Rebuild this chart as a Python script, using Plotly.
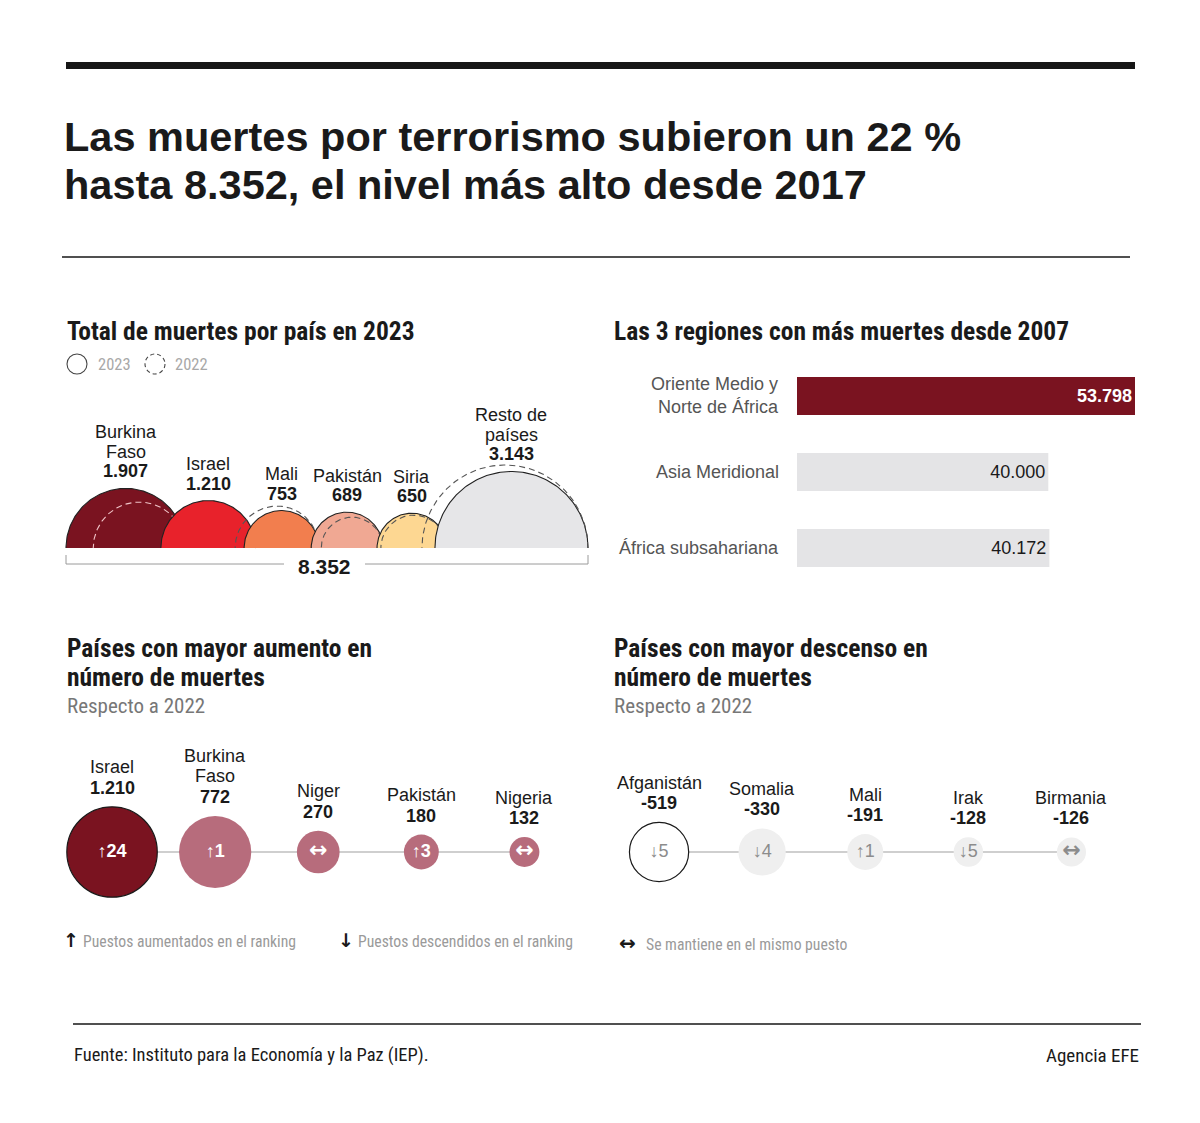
import numpy as np
import plotly.graph_objects as go

W, H = 1200, 1123

# ---------------- DATA ----------------
semi_countries = ["Burkina\nFaso", "Israel", "Mali", "Pakistán", "Siria", "Resto de\npaíses"]
deaths_2023 = [1907, 1210, 753, 689, 650, 3143]
deaths_2022 = [1135, 18, 944, 509, 580, 3700]
semi_colors = ["#7a1320", "#e8222b", "#f27e4e", "#f0a893", "#fdd792", "#e6e6e8"]

regions = ["Oriente Medio y\nNorte de África", "Asia Meridional", "África subsahariana"]
region_deaths = [53798, 40000, 40172]

up_countries = ["Israel", "Burkina\nFaso", "Niger", "Pakistán", "Nigeria"]
up_change = [1210, 772, 270, 180, 132]
up_rank = ["↑24", "↑1", "↔", "↑3", "↔"]

down_countries = ["Afganistán", "Somalia", "Mali", "Irak", "Birmania"]
down_change = [-519, -330, -191, -128, -126]
down_rank = ["↓5", "↓4", "↑1", "↓5", "↔"]

# ---------------- STYLE ----------------
BODY = "Liberation Sans, Arial, Helvetica, sans-serif"
NARROW = "Roboto Condensed, Liberation Sans Narrow, Arial Narrow, Roboto, sans-serif"
ARROWS = "DejaVu Sans, sans-serif"
DARK = "#1a1a1a"


def fmt(v):
    return f"{v:,}".replace(",", ".")


def PX(x):
    return x / W


def PY(y):
    return 1 - y / H


def rank_text(s, size):
    return s.replace("↔", f"<span style='font-family:DejaVu Sans;font-size:{size}px;font-weight:bold'>↔</span>")


fig = go.Figure()
annotations = []
shapes = []


def ann(x, y, text, size, color=DARK, family=BODY, weight=400, xanchor="center",
        yanchor="middle", xref="x", yref="y", **kw):
    annotations.append(dict(x=x, y=y, xref=xref, yref=yref, text=text, showarrow=False,
                            xanchor=xanchor, yanchor=yanchor,
                            font=dict(family=family, size=size, color=color, weight=weight),
                            **kw))


# ---------------- SEMICIRCLES (pixel axis x/y) ----------------
K_SEMI = 1.365            # px per sqrt(death)
SX0, SX1, BASE = 66, 588, 548
OVERLAP_W = [25, 12, 8, 6, 12]   # relative overlap between neighbouring semicircles
radii = [K_SEMI * np.sqrt(v) for v in deaths_2023]
radii22 = [K_SEMI * np.sqrt(v) for v in deaths_2022]
tot_overlap = 2 * sum(radii) - (SX1 - SX0)
overlaps = [tot_overlap * w / sum(OVERLAP_W) for w in OVERLAP_W]
centers = [SX0 + radii[0]]
for i in range(1, len(radii)):
    centers.append(centers[-1] + radii[i - 1] + radii[i] - overlaps[i - 1])

th = np.linspace(0, np.pi, 120)
for i in range(len(radii)):
    c, r, r2 = centers[i], radii[i], radii22[i]
    xs = c + r * np.cos(th)
    ys = BASE - r * np.sin(th)
    fig.add_trace(go.Scatter(x=xs, y=ys, mode="lines", fill="toself", fillcolor=semi_colors[i],
                             line=dict(width=0, color=semi_colors[i]), hoverinfo="skip",
                             xaxis="x", yaxis="y", showlegend=False))
    fig.add_trace(go.Scatter(x=xs, y=ys, mode="lines", line=dict(width=1.1, color="#222"),
                             hoverinfo="skip", xaxis="x", yaxis="y", showlegend=False))
    c2 = c + r - r2  # 2022 circle tangent to the right side
    dcol = "#f0c4c8" if i == 0 else "#555"
    fig.add_trace(go.Scatter(x=c2 + r2 * np.cos(th), y=BASE - r2 * np.sin(th), mode="lines",
                             line=dict(width=1.1, color=dcol, dash="6px,4px"),
                             hoverinfo="skip", xaxis="x", yaxis="y", showlegend=False))
    lines = semi_countries[i].split("\n") + ["<b>" + fmt(deaths_2023[i]) + "</b>"]
    ytop = BASE - r - 17
    for j, ln in enumerate(reversed(lines)):
        ann(c, ytop - j * 19.5, ln, 18)

# bracket with total
total = sum(deaths_2023)
BR_Y = 564
tcx = (SX0 + SX1) / 2 - 3
for a, b in ((SX0, tcx - 40), (tcx + 41, SX1)):
    shapes.append(dict(type="line", xref="x", yref="y", x0=a, x1=b, y0=BR_Y, y1=BR_Y,
                       line=dict(color="#9a9a9a", width=1)))
for xx in (SX0, SX1):
    shapes.append(dict(type="line", xref="x", yref="y", x0=xx, x1=xx, y0=555, y1=BR_Y,
                       line=dict(color="#9a9a9a", width=1)))
ann(tcx, 566, "<b>" + fmt(total) + "</b>", 21)

# legend icons
shapes.append(dict(type="circle", xref="x", yref="y", x0=67, x1=87, y0=354, y1=374,
                   line=dict(color="#444", width=1.1)))
shapes.append(dict(type="circle", xref="x", yref="y", x0=145, x1=165, y0=354, y1=374,
                   line=dict(color="#444", width=1.1, dash="4px,3px")))
ann(96, 364, "2023", 16.5, color="#a8a8a8", family=NARROW, xanchor="left")
ann(173, 364, "2022", 16.5, color="#a8a8a8", family=NARROW, xanchor="left")

# ---------------- BAR CHART (x2/y2) ----------------
bar_colors = ["#7a1320", "#e4e4e6", "#e4e4e6"]
bar_text = ["<b>" + fmt(region_deaths[0]) + "</b>"] + [fmt(v) for v in region_deaths[1:]]
fig.add_trace(go.Bar(x=region_deaths, y=regions, orientation="h", xaxis="x2", yaxis="y2",
                     marker=dict(color=bar_colors, line=dict(width=0)), width=0.5,
                     text=bar_text, textposition="inside", insidetextanchor="end",
                     textangle=0,
                     textfont=dict(family=BODY, size=18, color=["white", DARK, DARK]),
                     hoverinfo="skip", showlegend=False))
for reg in regions:
    ann(0, reg, reg.replace("\n", "<br>"), 18, color="#555", xanchor="right", align="right",
        xref="x2", yref="y2", xshift=-16)

# ---------------- BUBBLES (x3/y3 and x4/y4) ----------------
BUB_K = 1.3  # px radius per sqrt(|change|)


def bubble_row(names, vals, ranks, xa, ya, fills, lines_w, text_color, text_weight):
    n = len(vals)
    idx = list(range(n))
    fig.add_trace(go.Scatter(x=idx, y=[0] * n, mode="lines", line=dict(color="#a0a0a0", width=1.2),
                             xaxis=xa, yaxis=ya, hoverinfo="skip", showlegend=False))
    diam = [2 * BUB_K * np.sqrt(abs(v)) for v in vals]
    fig.add_trace(go.Scatter(x=idx, y=[0] * n, mode="markers+text", xaxis=xa, yaxis=ya,
                             marker=dict(size=diam, color=fills, opacity=1,
                                         line=dict(width=lines_w, color="#1a1a1a")),
                             text=[rank_text(s, 22) for s in ranks], textposition="middle center",
                             textfont=dict(family=BODY, size=18, color=text_color,
                                           weight=text_weight),
                             hoverinfo="skip", showlegend=False, cliponaxis=False))
    for i in idx:
        r = diam[i] / 2
        lines = names[i].split("\n") + ["<b>" + fmt(vals[i]) + "</b>"]
        for j, ln in enumerate(reversed(lines)):
            ann(i, 0, ln, 18, xref=xa, yref=ya, yshift=r + 19 + j * 20.5)


bubble_row(up_countries, up_change, up_rank, "x3", "y3",
           ["#7a1320"] + ["#b76c7c"] * 4, [1.2, 0, 0, 0, 0], "white", 700)
bubble_row(down_countries, down_change, down_rank, "x4", "y4",
           ["white"] + ["#efefef"] * 4, [1.2, 0, 0, 0, 0], "#8c8c8c", 400)

# ---------------- TEXT / DECORATION ----------------
shapes.append(dict(type="rect", xref="x", yref="y", x0=66, x1=1135, y0=62, y1=69,
                   fillcolor="#161616", line=dict(width=0)))
shapes.append(dict(type="line", xref="x", yref="y", x0=62, x1=1130, y0=257, y1=257,
                   line=dict(color="#161616", width=1.5)))
shapes.append(dict(type="line", xref="x", yref="y", x0=73, x1=1141, y0=1024, y1=1024,
                   line=dict(color="#161616", width=1.5)))

ann(62, 136, "Las muertes por terrorismo subieron un 22 %", 41.5, weight=700, xanchor="left")
ann(62, 184, "hasta 8.352, el nivel más alto desde 2017", 41.5, weight=700, xanchor="left")

HS = 25.5
ann(65, 331, "Total de muertes por país en 2023", HS, family=NARROW, weight=700, xanchor="left")
ann(612, 331, "Las 3 regiones con más muertes desde 2007", HS, family=NARROW, weight=700,
    xanchor="left")
ann(65, 648, "Países con mayor aumento en", HS, family=NARROW, weight=700, xanchor="left")
ann(65, 677, "número de muertes", HS, family=NARROW, weight=700, xanchor="left")
ann(65, 706, "Respecto a 2022", 21, family=NARROW, color="#777", xanchor="left")
ann(612, 648, "Países con mayor descenso en", HS, family=NARROW, weight=700, xanchor="left")
ann(612, 677, "número de muertes", HS, family=NARROW, weight=700, xanchor="left")
ann(612, 706, "Respecto a 2022", 21, family=NARROW, color="#777", xanchor="left")

ann(71, 940, "↑", 19, family=ARROWS, weight=700)
ann(81, 941, "Puestos aumentados en el ranking", 15.7, family=NARROW, color="#9a9a9a",
    xanchor="left")
ann(346, 940, "↓", 19, family=ARROWS, weight=700)
ann(356, 941, "Puestos descendidos en el ranking", 15.7, family=NARROW, color="#9a9a9a",
    xanchor="left")
ann(627, 943, "↔", 20, family=ARROWS, weight=700)
ann(644, 944, "Se mantiene en el mismo puesto", 15.7, family=NARROW, color="#9a9a9a",
    xanchor="left")

ann(72, 1055, "Fuente: Instituto para la Economía y la Paz (IEP).", 18.5, family=NARROW,
    xanchor="left")
ann(1141, 1055, "Agencia EFE", 19, family=NARROW, xanchor="right")

# ---------------- LAYOUT ----------------
hidden = dict(visible=False, showgrid=False, zeroline=False, fixedrange=True)
fig.update_layout(
    width=W, height=H, margin=dict(l=0, r=0, t=0, b=0),
    paper_bgcolor="white", plot_bgcolor="rgba(0,0,0,0)",
    showlegend=False,
    xaxis=dict(domain=[0, 1], range=[0, W], **hidden),
    yaxis=dict(domain=[0, 1], range=[H, 0], **hidden),
    xaxis2=dict(domain=[PX(797), PX(1135)], range=[0, max(region_deaths)], anchor="y2", **hidden),
    yaxis2=dict(domain=[PY(586), PY(358)], anchor="x2", type="category",
                categoryorder="array", categoryarray=regions, autorange="reversed", **hidden),
    xaxis3=dict(domain=[PX(60.5), PX(576)], range=[-0.5, 4.5], anchor="y3", **hidden),
    yaxis3=dict(domain=[PY(904), PY(800)], range=[-1, 1], anchor="x3", **hidden),
    xaxis4=dict(domain=[PX(607.5), PX(1123)], range=[-0.5, 4.5], anchor="y4", **hidden),
    yaxis4=dict(domain=[PY(904), PY(800)], range=[-1, 1], anchor="x4", **hidden),
    annotations=annotations,
    shapes=shapes,
)

fig.write_html("out.html", config={"displayModeBar": False},
               post_script="document.body.style.margin='0';")
